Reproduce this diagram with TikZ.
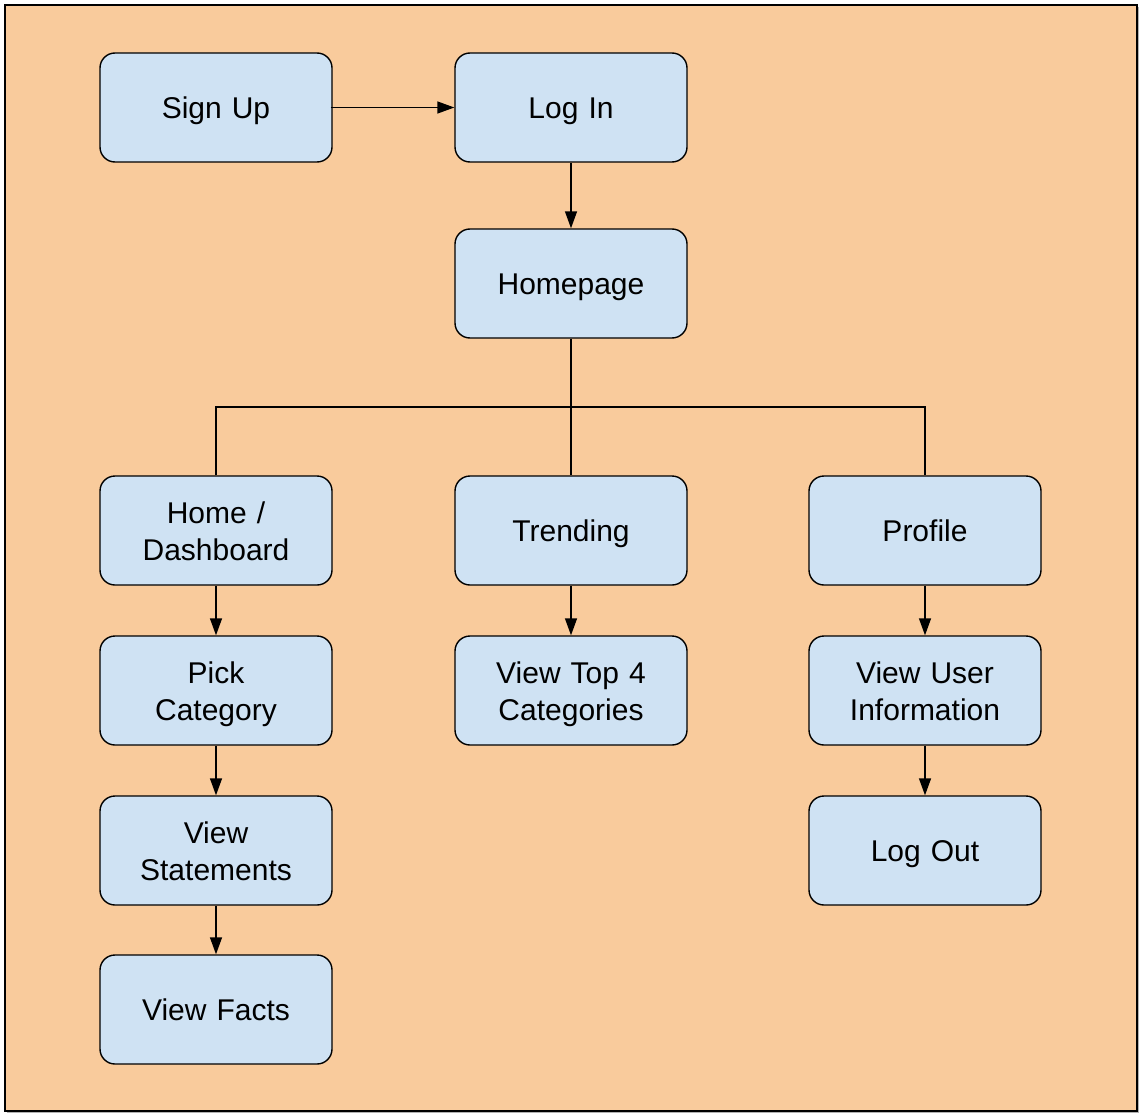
\documentclass[tikz,border=0pt]{standalone}
\usepackage{fontspec}
\setmainfont{Liberation Sans}
\usetikzlibrary{arrows.meta}
\definecolor{bgorange}{HTML}{F9CB9C}
\definecolor{boxblue}{HTML}{CFE2F3}
\newcommand\boxstrut{\rule[-7.5pt]{0pt}{37pt}}
\begin{document}
\begin{tikzpicture}[x=1pt,y=-1pt,
  box/.style={draw=black, fill=boxblue, line width=1.4pt, rounded corners=15pt,
    minimum width=232pt, minimum height=109pt, inner sep=0pt,
    align=center, font=\fontsize{30}{37}\selectfont, text width=224pt,
    execute at begin node=\boxstrut, execute at end node=\boxstrut},
  arr/.style={line width=1.4pt, -{Triangle[length=17pt,width=12pt]}},
  ln/.style={line width=1.4pt}]
\useasboundingbox (0,0) rectangle (1147,1118);
\fill[gray!60] (7,7) rectangle (1139,1113);
\draw[fill=bgorange, line width=2pt] (5,5) rectangle (1137,1111);
\node[box] (signup) at (216,107.5) {Sign Up};
\node[box] (login) at (571,107.5) {Log In};
\node[box] (home) at (571,283.5) {Homepage};
\node[box] (dash) at (216,530.5) {Home /\\Dashboard};
\node[box] (trend) at (571,530.5) {Trending};
\node[box] (profile) at (925,530.5) {Profile};
\node[box] (pick) at (216,690.5) {Pick\\Category};
\node[box] (top4) at (571,690.5) {View Top 4\\Categories};
\node[box] (user) at (925,690.5) {View User\\Information};
\node[box] (stmt) at (216,850.5) {View\\Statements};
\node[box] (logout) at (925,850.5) {Log Out};
\node[box] (facts) at (216,1009.5) {View Facts};
\coordinate (junc) at (571,407);
\draw[arr] ([xshift=-2pt]signup.east) -- (login.west);
\draw[arr] (login) -- (home);
\draw[ln] (home.south) -- (trend.north);
\draw[ln] (dash.north) |- (junc) -| (profile.north);
\draw[arr] (dash) -- (pick);
\draw[arr] (pick) -- (stmt);
\draw[arr] (stmt) -- (facts);
\draw[arr] (trend) -- (top4);
\draw[arr] (profile) -- (user);
\draw[arr] (user) -- (logout);
\end{tikzpicture}
\end{document}
